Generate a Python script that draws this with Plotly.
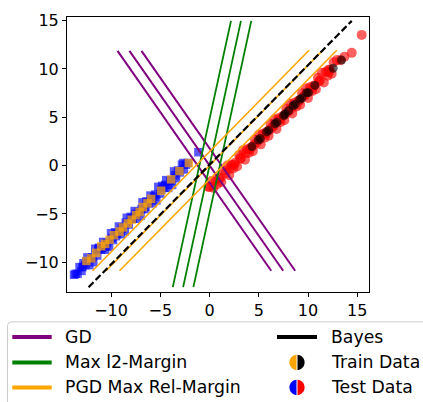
import plotly.graph_objects as go

# ---- test data (class -1: squares, class +1: circles) ----
test_neg_x = [-13.6, -13.4, -13.2, -13.0, -12.8, -12.6, -12.4, -12.2, -12.0, -11.8,
              -11.6, -11.4, -11.2, -11.0, -10.8, -10.6, -10.4, -10.2, -10.0, -9.8,
              -9.6, -9.4, -9.2, -9.0, -8.8, -8.6, -8.4, -8.2, -8.0, -7.8,
              -7.6, -7.4, -7.2, -7.0, -6.8, -6.6, -6.4, -6.2, -6.0, -5.8,
              -5.6, -5.4, -5.2, -5.0, -4.8, -4.6, -4.4, -4.2, -4.0, -3.8,
              -3.6, -3.4, -3.2, -3.0, -2.8, -2.6, -2.4, -2.2, -2.65, -1.13,
              -13.75, -12.9, -11.9, -10.9, -9.9, -8.9, -7.9, -6.9, -5.9, -4.9,
              -3.9, -11.3, -9.5, -7.5, -5.5, -3.5, -12.5, -10.5, -8.5, -6.5, -4.5]
test_neg_y = [-11.2, -11.2, -10.5, -10.9, -10.1, -10.3, -9.5, -10.3, -9.6, -10.0,
              -8.6, -9.3, -8.5, -8.7, -7.9, -8.7, -8.0, -8.4, -7.0, -7.7,
              -6.9, -7.1, -6.3, -7.1, -6.4, -6.8, -5.4, -6.1, -5.3, -5.5,
              -4.7, -5.5, -4.8, -5.2, -3.8, -4.5, -3.7, -3.9, -3.1, -3.9,
              -3.2, -3.6, -2.2, -2.9, -2.1, -2.3, -1.5, -2.3, -1.6, -2.0,
              -0.6, -1.3, -0.5, -0.7, 0.1, -0.4, 0.1, 0.27, 0.27, 1.39,
              -11.3, -10.5, -9.5, -8.5, -7.5, -6.5, -5.5, -4.5, -3.5, -2.5,
              -1.5, -8.6, -7.3, -5.0, -3.0, -1.0, -9.9, -8.3, -5.9, -4.3, -2.0]

test_pos_x = [0.0, 0.2, 0.4, 0.6, 0.8, 1.0, 1.2, 1.4, 1.6, 1.8,
              2.0, 2.2, 2.4, 2.6, 2.8, 3.0, 3.2, 3.4, 3.6, 3.8,
              4.0, 4.2, 4.4, 4.6, 4.8, 5.0, 5.2, 5.4, 5.6, 5.8,
              6.0, 6.2, 6.4, 6.6, 6.8, 7.0, 7.2, 7.4, 7.6, 7.8,
              8.0, 8.2, 8.4, 8.6, 8.8, 9.0, 9.2, 9.4, 9.6, 9.8,
              10.0, 10.2, 10.4, 10.6, 10.8, 11.0, 11.2, 11.4, 11.6, 11.8,
              12.0, 12.2, 12.4, 12.6, 12.92, 13.3, 13.7, 14.44, 15.45, 12.08,
              -0.12, 1.1, 2.1, 3.1, 4.1, 5.1, 6.1, 7.1, 8.1, 9.1,
              10.1, 11.1, 12.1, 2.5, 4.5, 6.5, 8.5, 10.5, 3.7, 5.7, 7.7, 9.7]
test_pos_y = [-2.2, -1.6, -2.3, -1.5, -1.9, -1.3, -1.7, -0.5, -0.8, 0.0,
              -1.0, 0.1, -0.3, 0.3, -0.1, 1.1, 0.8, 1.6, 0.6, 1.7,
              1.3, 1.9, 1.5, 2.7, 2.4, 3.2, 2.2, 3.3, 2.9, 3.5,
              3.1, 4.3, 4.0, 4.8, 3.8, 4.9, 4.5, 5.1, 4.7, 5.9,
              5.6, 6.4, 5.4, 6.5, 6.1, 6.7, 6.3, 7.5, 7.2, 8.0,
              7.0, 8.1, 7.7, 8.3, 7.9, 9.1, 8.8, 9.6, 8.6, 9.7,
              9.3, 9.9, 9.5, 10.7, 10.92, 10.9, 11.26, 11.67, 13.53, 9.91,
              -2.2, -1.3, -0.3, 0.7, 1.7, 2.7, 3.7, 4.7, 5.7, 6.7,
              7.7, 8.7, 9.7, 0.1, 2.1, 4.1, 6.1, 8.1, 1.3, 3.3, 5.3, 7.3]

# ---- training data ----
train_neg_x = [-12.5, -11.5, -11.0, -10.15, -9.14, -8.29, -7.45, -6.77, -5.93, -4.91,
               -3.9, -3.06, -2.1, -7.9, -7.1, -8.8, -9.7, -6.3, -12.0, -10.6]
train_neg_y = [-9.87, -9.03, -8.35, -7.67, -6.83, -5.98, -5.13, -4.29, -3.45, -2.6,
               -1.42, -0.57, 0.27, -5.6, -4.8, -6.4, -7.2, -3.9, -9.6, -8.1]

train_pos_x = [4.3, 5.15, 6.0, 6.84, 7.52, 8.02, 8.69, 9.37, 10.05, 10.7,
               12.55, 13.4, 4.95, 5.8, 6.64, 7.65, 8.49, 9.17, 9.85]
train_pos_y = [1.97, 2.81, 3.65, 4.5, 5.17, 5.68, 6.36, 7.0, 7.55, 8.3,
               10.08, 10.92, 2.64, 3.49, 4.33, 5.34, 6.19, 6.87, 7.55]

# ---- decision boundaries and margins (segment end points) ----
gd_x0 = [-9.34, -8.13, -6.91]
gd_y0 = [11.87, 11.87, 11.87]
gd_x1 = [6.26, 7.48, 8.69]
gd_y1 = [-10.88, -10.88, -10.88]

l2_x0 = [-3.73, -2.68, -1.64]
l2_y0 = [-12.58, -12.58, -12.58]
l2_x1 = [2.18, 3.19, 4.24]
l2_y1 = [14.98, 14.98, 14.98]

pgd_x0 = [-11.87, -10.5, -9.14]
pgd_y0 = [-10.88, -10.88, -10.88]
pgd_x1 = [10.11, 11.5, 12.92]
pgd_y1 = [11.94, 11.94, 11.94]

bayes_x = [-12.28, 14.44]
bayes_y = [-12.58, 14.98]

x_ticks = [-10, -5, 0, 5, 10, 15]
y_ticks = [-10, -5, 0, 5, 10, 15]

legend_lines = ["GD", "Max l2-Margin", "PGD Max Rel-Margin"]
legend_right = ["Bayes", "Train Data", "Test Data"]

PURPLE, GREEN, ORANGE = "#800080", "#008000", "#FFA500"
BLUE, RED, BLACK = "#0000FF", "#FF0000", "#000000"
FONT = "DejaVu Sans"

W, H = 423, 402
ML, MR, MT, MB = 67, 54, 11, 110
PW, PH = W - ML - MR, H - MT - MB


def segments(x0, y0, x1, y1):
    xs, ys = [], []
    for a, b, c, d in zip(x0, y0, x1, y1):
        xs += [a, c, None]
        ys += [b, d, None]
    return xs, ys


fig = go.Figure()

fig.add_trace(go.Scatter(x=test_neg_x, y=test_neg_y, mode="markers", name="Test Data (-1)",
                         marker=dict(symbol="square", size=8.5, color=BLUE, opacity=0.65,
                                     line=dict(width=0)), showlegend=False))
fig.add_trace(go.Scatter(x=test_pos_x, y=test_pos_y, mode="markers", name="Test Data (+1)",
                         marker=dict(symbol="circle", size=10, color=RED, opacity=0.62,
                                     line=dict(width=0)), showlegend=False))
fig.add_trace(go.Scatter(x=train_neg_x, y=train_neg_y, mode="markers", name="Train Data (-1)",
                         marker=dict(symbol="square", size=8.5, color=ORANGE, opacity=0.72,
                                     line=dict(width=0)), showlegend=False))
fig.add_trace(go.Scatter(x=train_pos_x, y=train_pos_y, mode="markers", name="Train Data (+1)",
                         marker=dict(symbol="circle", size=9, color=BLACK, opacity=0.6,
                                     line=dict(width=0)), showlegend=False))

for name, (a, b, c, d), color, w in [
    ("GD", (gd_x0, gd_y0, gd_x1, gd_y1), PURPLE, 2),
    ("Max l2-Margin", (l2_x0, l2_y0, l2_x1, l2_y1), GREEN, 1.8),
    ("PGD Max Rel-Margin", (pgd_x0, pgd_y0, pgd_x1, pgd_y1), ORANGE, 1.6),
]:
    xs, ys = segments(a, b, c, d)
    fig.add_trace(go.Scatter(x=xs, y=ys, mode="lines", name=name,
                             line=dict(color=color, width=w), showlegend=False))

fig.add_trace(go.Scatter(x=bayes_x, y=bayes_y, mode="lines", name="Bayes",
                         line=dict(color=BLACK, width=2.2, dash="7px,3px"), showlegend=False))


# ---- legend box drawn below the axes ----
def px_x(p):
    return (p - ML) / PW


def px_y(p):
    return (MT + PH - p) / PH


shapes = []
# frame with a rounded top-left corner
shapes.append(dict(type="path", xref="paper", yref="paper", xsizemode="pixel", ysizemode="pixel",
                   xanchor=px_x(7.5), yanchor=px_y(322.5),
                   path="M 0,-120 L 0,-4 Q 0,0 4,0 L 460,0",
                   line=dict(color="#cccccc", width=1), fillcolor="rgba(0,0,0,0)", layer="above"))

row_y = [338, 364, 389.5]
for yy, color in zip(row_y, [PURPLE, GREEN, ORANGE]):
    shapes.append(dict(type="line", xref="paper", yref="paper",
                       x0=px_x(12.3), x1=px_x(51.7), y0=px_y(yy), y1=px_y(yy),
                       line=dict(color=color, width=4)))
shapes.append(dict(type="line", xref="paper", yref="paper",
                   x0=px_x(277), x1=px_x(317), y0=px_y(row_y[0]), y1=px_y(row_y[0]),
                   line=dict(color=BLACK, width=4)))

r = 7.6
k = 0.5523 * r
left_half = f"M 0,{r} C {-k},{r} {-r},{k} {-r},0 C {-r},{-k} {-k},{-r} 0,{-r} Z"
right_half = f"M 0,{r} C {k},{r} {r},{k} {r},0 C {r},{-k} {k},{-r} 0,{-r} Z"
for yy, (cl, cr) in zip(row_y[1:], [(ORANGE, BLACK), (BLUE, RED)]):
    for path, col in [(left_half, cl), (right_half, cr)]:
        shapes.append(dict(type="path", xref="paper", yref="paper", xsizemode="pixel",
                           ysizemode="pixel", xanchor=px_x(297), yanchor=px_y(yy), path=path,
                           fillcolor=col, line=dict(width=0)))
    shapes.append(dict(type="line", xref="paper", yref="paper", xsizemode="pixel",
                       ysizemode="pixel", xanchor=px_x(297), yanchor=px_y(yy),
                       x0=0, x1=0, y0=-r, y1=r, line=dict(color="white", width=1)))

annotations = []
for txt, yy in zip(legend_lines, row_y):
    annotations.append(dict(text=txt, xref="paper", yref="paper", x=px_x(63), y=px_y(yy),
                            xanchor="left", yanchor="middle", showarrow=False,
                            font=dict(family=FONT, size=17.3, color=BLACK)))
for txt, yy in zip(legend_right, row_y):
    annotations.append(dict(text=txt, xref="paper", yref="paper", x=px_x(329), y=px_y(yy),
                            xanchor="left", yanchor="middle", showarrow=False,
                            font=dict(family=FONT, size=17.3, color=BLACK)))

axis_style = dict(showgrid=False, zeroline=False, showline=True, linecolor=BLACK, linewidth=1,
                  mirror=True, ticks="outside", ticklen=4, tickcolor=BLACK, tickwidth=1,
                  tickfont=dict(family=FONT, size=16, color=BLACK))

fig.update_layout(
    width=W, height=H,
    margin=dict(l=ML, r=MR, t=MT, b=MB),
    paper_bgcolor="white", plot_bgcolor="white",
    xaxis=dict(range=[-14.47, 16.19], tickvals=x_ticks, **axis_style),
    yaxis=dict(range=[-13.08, 15.38], tickvals=y_ticks, **axis_style),
    shapes=shapes, annotations=annotations,
    showlegend=False,
)

fig.write_html("out.html")
